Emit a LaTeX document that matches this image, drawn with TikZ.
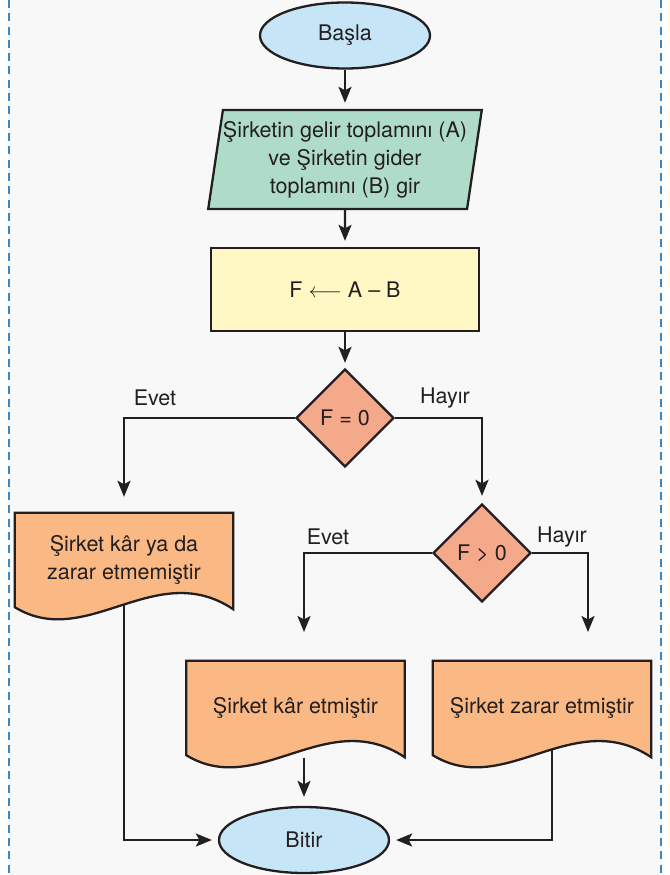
\documentclass[tikz,border=0pt]{standalone}
\usepackage{fontspec}
\setmainfont{TeX Gyre Heros}
\usepackage{tikz}
\usetikzlibrary{arrows.meta,shapes.geometric,backgrounds}
\definecolor{termblue}{HTML}{C6E5F7}
\definecolor{iogreen}{HTML}{AFDCC8}
\definecolor{procyellow}{HTML}{FFF8C4}
\definecolor{decsalmon}{HTML}{F4A98B}
\definecolor{docorange}{HTML}{F9B884}
\definecolor{inkx}{HTML}{231F20}
\definecolor{framex}{HTML}{3B87C6}
\definecolor{softbg}{HTML}{F8F8F8}
\tikzset{
  ar/.style={-{Stealth[length=16pt,width=13pt,inset=3.5pt]},line width=2.3pt,inkx},
  term/.style={ellipse,draw=inkx,line width=2.3pt,fill=termblue,minimum width=170pt,minimum height=66pt},
  io/.style={trapezium,trapezium left angle=80,trapezium right angle=100,trapezium stretches=true,draw=inkx,line width=2.3pt,fill=iogreen,minimum width=268pt,minimum height=99pt,inner xsep=0pt,align=center},
  box/.style={draw=inkx,line width=2.3pt,fill=procyellow,minimum width=268pt,minimum height=83pt},
  dec/.style={diamond,draw=inkx,line width=2.3pt,fill=decsalmon,minimum width=98pt,minimum height=98pt,inner sep=0pt},
  doc/.style={minimum width=218pt,minimum height=94pt,align=center},
  docline/.style={draw=inkx,line width=2.3pt,fill=docorange},
  lbl/.style={inner sep=0pt}
}
% outline of a document symbol round a doc node
\newcommand{\docframe}[1]{%
  \filldraw[docline] (#1.south west) -- (#1.north west) -- (#1.north east)
    -- ([yshift=-2pt]#1.south east)
    .. controls ([xshift=-78pt,yshift=50pt]#1.south east) and ([xshift=72pt,yshift=-44pt]#1.south west) .. (#1.south west) -- cycle;}

\begin{document}
\begin{tikzpicture}[x=1pt,y=-1pt,font=\fontsize{21.5}{28}\selectfont,text=inkx]
\useasboundingbox (0,0) rectangle (669,875);
\begin{scope}[on background layer]
\fill[white] (0,0) rectangle (669,875);
\fill[softbg] (9,0) rectangle (661,875);
\draw[framex,line width=2.5pt,dash pattern=on 8pt off 5.3pt] (9,0) -- (9,875) (661,0) -- (661,875);
\end{scope}

\node[term] (start) at (345,35.5) {Başla};
\node[io] (input) at (345,159.5) {Şirketin gelir toplamını (A)\\ve Şirketin gider\\toplamını (B) gir};
\node[box] (calc) at (345,289.5) {F $\longleftarrow$ A – B};
\node[dec] (dec1) at (345,418) {F = 0};
\node[dec] (dec2) at (482,553) {F > 0};
\node[doc] (doc1) at (124,560) {Şirket kâr ya da\\zarar etmemiştir};
\node[doc] (doc2) at (295.5,708) {Şirket kâr etmiştir};
\node[doc] (doc3) at (542,708) {Şirket zarar etmiştir};
\node[term] (end) at (304,840) {Bitir};
\begin{scope}[on background layer]
\docframe{doc1} \docframe{doc2} \docframe{doc3}
\end{scope}

\node[lbl] (yes1) at (155,398) {Evet};
\node[lbl] (no1) at (445,398) {Hayır};
\node[lbl] (yes2) at (328,537) {Evet};
\node[lbl] (no2) at (562,537) {Hayır};

\coordinate (t2) at (304,632);
\coordinate (t3) at (588,632);
\coordinate (r3) at (552,750);

\draw[ar,shorten >=6pt] (start) -- (input);
\draw[ar,shorten >=6pt] (input) -- (calc);
\draw[ar,shorten >=5pt] (calc) -- (dec1);
\draw[ar,shorten >=16pt] (dec1.west) -| (doc1.north);
\draw[ar,shorten >=7pt] (dec1.east) -| (dec2.north);
\draw[ar] (dec2.west) -| (t2);
\draw[ar] (dec2.east) -| (t3);
\draw[ar,shorten >=6pt] ([yshift=2pt]doc1.south) |- (end.west);
\draw[ar,shorten <=3pt,shorten >=9pt] (doc2.south -| end) -- (end.north);
\draw[ar,shorten >=6pt] (r3) |- (end.east);
\end{tikzpicture}
\end{document}
